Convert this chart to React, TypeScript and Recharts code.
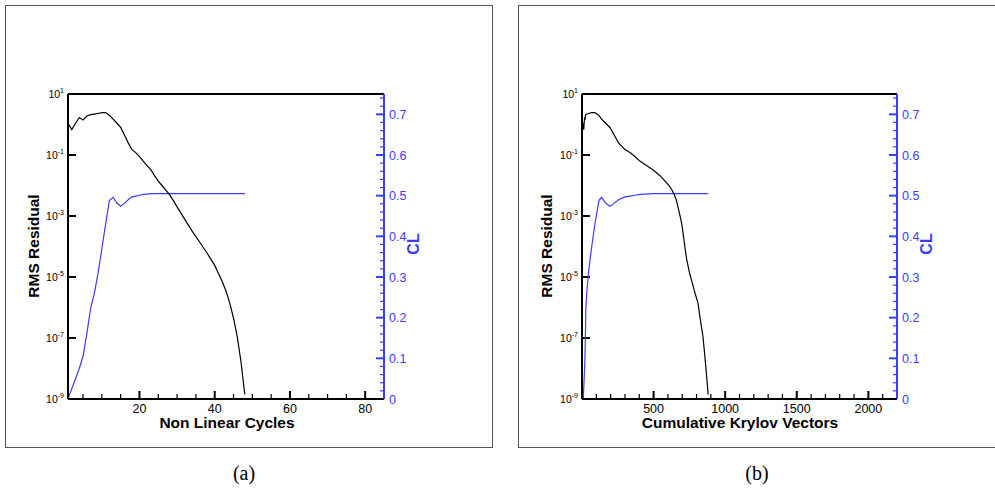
import { LineChart, Line, XAxis, YAxis, ReferenceLine } from "recharts";

// one entry per non linear cycle
const cycles = [
  1, 2, 3, 4, 5, 6, 7, 8, 9, 10, 11, 12, 13, 14, 15, 16, 17, 18, 19, 20, 21, 22, 23, 24,
  25, 26, 27, 28, 29, 30, 31, 32, 33, 34, 35, 36, 37, 38, 39, 40, 41, 42, 43, 44, 45, 46, 47, 48,
];
const krylovVectors = [
  9, 12, 15, 18, 21, 24, 27, 33, 45, 66, 90, 118, 137, 165, 195, 225, 255, 300, 335, 370, 404, 450, 495, 545,
  580, 608, 628, 645, 660, 670, 680, 690, 698, 704, 709, 714, 719, 725, 731, 740, 752, 768, 785, 810, 825, 845, 862, 881,
];
const rmsResidual = [
  1.1, 0.68, 1.1, 1.7, 1.4, 1.9, 2.1, 2.2, 2.3, 2.45, 2.45, 2.0, 1.5, 1.1, 0.8, 0.45, 0.25, 0.15, 0.12, 8.9e-2,
  6.3e-2, 4.5e-2, 3.3e-2, 2.1e-2, 1.4e-2, 1.0e-2, 7.1e-3, 5.0e-3, 3.2e-3, 2.0e-3, 1.26e-3, 7.9e-4, 5.0e-4, 3.2e-4,
  2.1e-4, 1.4e-4, 9.1e-5, 6.0e-5, 3.8e-5, 2.4e-5, 1.3e-5, 7.1e-6, 3.5e-6, 1.4e-6, 4.5e-7, 1.1e-7, 1.6e-8, 1.4e-9,
];
const liftCoef = [
  0.0, 0.025, 0.05, 0.075, 0.105, 0.16, 0.222, 0.26, 0.31, 0.37, 0.43, 0.488, 0.496, 0.482, 0.474, 0.481, 0.49,
  0.497, 0.499, 0.501, 0.503, 0.504, 0.505, 0.505, 0.505, 0.505, 0.505, 0.505, 0.505, 0.505, 0.505, 0.505, 0.505,
  0.505, 0.505, 0.505, 0.505, 0.505, 0.505, 0.505, 0.505, 0.505, 0.505, 0.505, 0.505, 0.505, 0.505, 0.505,
];

const residualTicks = [1e1, 1e-1, 1e-3, 1e-5, 1e-7, 1e-9];
const cycleLabels = [20, 40, 60, 80];
const cycleMinor = [5, 10, 15, 25, 30, 35, 45, 50, 55, 65, 70, 75];
const krylovLabels = [500, 1000, 1500, 2000];
const krylovMinor = [
  100, 200, 300, 400, 600, 700, 800, 900, 1100, 1200, 1300, 1400, 1600, 1700, 1800, 1900, 2100,
];
const clLabels = [0, 0.1, 0.2, 0.3, 0.4, 0.5, 0.6, 0.7];
const clMinor = [
  0.02, 0.04, 0.06, 0.08, 0.12, 0.14, 0.16, 0.18, 0.22, 0.24, 0.26, 0.28, 0.32, 0.34, 0.36, 0.38, 0.42, 0.44,
  0.46, 0.48, 0.52, 0.54, 0.56, 0.58, 0.62, 0.64, 0.66, 0.68, 0.72, 0.74,
];

const data = cycles.map((c, i) => ({
  cycle: c,
  krylov: krylovVectors[i],
  res: rmsResidual[i],
  cl: liftCoef[i],
}));

const SANS = '"Liberation Sans", Arial, Helvetica, sans-serif';
const BLUE = "#3c3cff";

// plot box size shared by both panels
const PLOT_W = 316;
const PLOT_H = 305;
const RES_MIN = 1e-9;
const RES_MAX = 10;
const CL_MAX = 0.75;

function ResidualTick(props: any) {
  const { x, y, payload } = props;
  const exp = Math.round(Math.log10(payload.value));
  return (
    <text x={x - 4} y={y + 4} textAnchor="end" fontSize={10.5} fontFamily={SANS} fill="#000">
      10
      <tspan dy={-5} fontSize={7}>
        {exp}
      </tspan>
    </text>
  );
}

function BottomTick(props: any) {
  const { x, y, payload } = props;
  return (
    <text x={x} y={y + 14} textAnchor="middle" fontSize={12.5} fontFamily={SANS} fill="#000">
      {payload.value}
    </text>
  );
}

function ClTick(props: any) {
  const { x, y, payload } = props;
  return (
    <text x={x + 5} y={y + 4.5} textAnchor="start" fontSize={12.5} fontFamily={SANS} fill={BLUE}>
      {payload.value}
    </text>
  );
}

function Title({ text, x, y, rotate = false, color = "#000", size = 15.5 }: any) {
  return (
    <div
      style={{
        position: "absolute",
        left: x,
        top: y,
        transform: `translate(-50%, -50%)${rotate ? " rotate(-90deg)" : ""}`,
        fontFamily: SANS,
        fontWeight: "bold",
        fontSize: size,
        color,
        whiteSpace: "nowrap",
        lineHeight: 1,
      }}
    >
      {text}
    </div>
  );
}

function Caption({ text, x }: any) {
  return (
    <div
      style={{
        position: "absolute",
        left: x,
        top: 473,
        transform: "translate(-50%, -50%)",
        fontFamily: '"Liberation Serif", "Times New Roman", serif',
        fontSize: 20,
        color: "#000",
        lineHeight: 1,
      }}
    >
      {text}
    </div>
  );
}

function ConvergenceChart({ left, marginLeft, marginRight, xKey, xDomain, xMinor, xLabels }: any) {
  const [x0, x1] = xDomain;
  const xPerPx = (x1 - x0) / PLOT_W;
  const decadesPerPx = Math.log10(RES_MAX / RES_MIN) / PLOT_H;
  // inward tick lengths in axis units
  const up = (px: number) => RES_MIN * Math.pow(10, px * decadesPerPx);

  return (
    <div style={{ position: "absolute", left, top: 0 }}>
      <LineChart
        width={495}
        height={447}
        data={data}
        margin={{ top: 94, right: marginRight, bottom: 18, left: marginLeft }}
      >
        <XAxis
          dataKey={xKey}
          type="number"
          domain={xDomain}
          allowDataOverflow
          ticks={xLabels}
          interval={0}
          height={30}
          tickSize={0}
          tickMargin={0}
          tickLine={false}
          axisLine={{ stroke: "#000", strokeWidth: 2 }}
          tick={(p: any) => <BottomTick {...p} />}
        />
        <YAxis
          yAxisId="res"
          orientation="left"
          type="number"
          scale="log"
          domain={[RES_MIN, RES_MAX]}
          allowDataOverflow
          ticks={residualTicks}
          interval={0}
          width={60}
          tickSize={0}
          tickMargin={0}
          tickLine={false}
          axisLine={{ stroke: "#000", strokeWidth: 2 }}
          tick={(p: any) => <ResidualTick {...p} />}
        />
        <YAxis
          yAxisId="cl"
          orientation="right"
          type="number"
          domain={[0, CL_MAX]}
          allowDataOverflow
          ticks={clLabels}
          interval={0}
          width={50}
          tickSize={0}
          tickMargin={0}
          tickLine={false}
          axisLine={{ stroke: BLUE, strokeWidth: 2 }}
          tick={(p: any) => <ClTick {...p} />}
        />
        <ReferenceLine yAxisId="res" y={RES_MAX} stroke="#000" strokeWidth={2} />

        {/* tick marks pointing into the plot */}
        {xLabels.map((v: number) => (
          <ReferenceLine
            key={`xm${v}`}
            yAxisId="res"
            segment={[{ x: v, y: RES_MIN }, { x: v, y: up(8) }]}
            stroke="#000"
            strokeWidth={2}
          />
        ))}
        {xMinor.map((v: number) => (
          <ReferenceLine
            key={`xn${v}`}
            yAxisId="res"
            segment={[{ x: v, y: RES_MIN }, { x: v, y: up(5) }]}
            stroke="#000"
            strokeWidth={1.2}
          />
        ))}
        {residualTicks.map((v) => (
          <ReferenceLine
            key={`r${v}`}
            yAxisId="res"
            segment={[{ x: x0, y: v }, { x: x0 + 8 * xPerPx, y: v }]}
            stroke="#000"
            strokeWidth={2}
          />
        ))}
        {clLabels.map((v) => (
          <ReferenceLine
            key={`cm${v}`}
            yAxisId="cl"
            segment={[{ x: x1 - 8 * xPerPx, y: v }, { x: x1, y: v }]}
            stroke={BLUE}
            strokeWidth={2}
          />
        ))}
        {clMinor.map((v) => (
          <ReferenceLine
            key={`cn${v}`}
            yAxisId="cl"
            segment={[{ x: x1 - 4 * xPerPx, y: v }, { x: x1, y: v }]}
            stroke={BLUE}
            strokeWidth={1.2}
          />
        ))}

        <Line yAxisId="cl" dataKey="cl" type="linear" stroke={BLUE} strokeWidth={1.2} dot={false} isAnimationActive={false} />
        <Line yAxisId="res" dataKey="res" type="linear" stroke="#000" strokeWidth={1.2} dot={false} isAnimationActive={false} />
      </LineChart>
    </div>
  );
}

export default function App() {
  return (
    <div style={{ position: "absolute", left: 0, top: 0, width: 995, height: 491, overflow: "hidden", background: "#fff" }}>
      <div style={{ position: "absolute", left: 5, top: 5, width: 486, height: 441, border: "1.5px solid #555" }} />
      <div style={{ position: "absolute", left: 518, top: 5, width: 480, height: 441, border: "1.5px solid #555" }} />

      {/* panel (a) */}
      <ConvergenceChart
        left={0}
        marginLeft={8}
        marginRight={61}
        xKey="cycle"
        xDomain={[1, 85]}
        xMinor={cycleMinor}
        xLabels={cycleLabels}
      />
      <Title text="RMS Residual" x={34} y={246} rotate />
      <Title text="CL" x={414} y={244} rotate color={BLUE} size={16} />
      <Title text="Non Linear Cycles" x={227} y={423} />
      <Caption text="(a)" x={244} />

      {/* panel (b) */}
      <ConvergenceChart
        left={500}
        marginLeft={22}
        marginRight={48}
        xKey="krylov"
        xDomain={[0, 2200]}
        xMinor={krylovMinor}
        xLabels={krylovLabels}
      />
      <Title text="RMS Residual" x={547} y={246} rotate />
      <Title text="CL" x={927} y={244} rotate color={BLUE} size={16} />
      <Title text="Cumulative Krylov Vectors" x={740} y={423} />
      <Caption text="(b)" x={757} />
    </div>
  );
}
